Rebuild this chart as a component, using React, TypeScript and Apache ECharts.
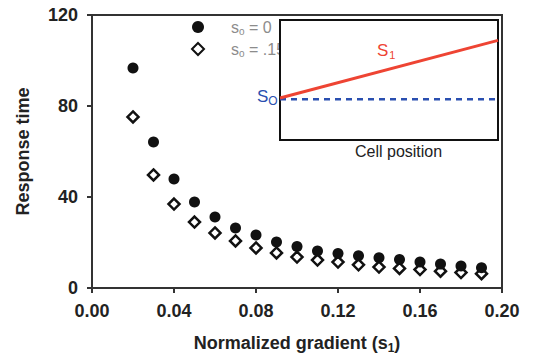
import React, { useEffect, useRef } from "react";
import * as echarts from "echarts";

const gradients = [0.02, 0.03, 0.04, 0.05, 0.06, 0.07, 0.08, 0.09, 0.1, 0.11, 0.12, 0.13, 0.14, 0.15, 0.16, 0.17, 0.18, 0.19];
const s0Zero = [96.7, 64.2, 47.9, 37.8, 31.2, 26.4, 23.3, 20.2, 18.2, 16.3, 15.2, 14.2, 13.3, 12.5, 11.4, 10.5, 9.7, 8.9];
const s0Fifteen = [75.2, 49.7, 36.9, 29.0, 24.2, 20.7, 17.6, 15.4, 13.6, 12.3, 11.4, 10.2, 9.2, 8.6, 8.1, 7.4, 6.8, 6.3];
const yTicks = [0, 40, 80, 120];
const xTicks = [0, 0.04, 0.08, 0.12, 0.16, 0.2];
// inset schematic: cell position 0..1
const insetPos = [0, 1];
const insetS1 = [0.35, 0.83];
const insetS0 = [0.34, 0.34];

const FONT = "Arial, 'Liberation Sans', Helvetica, sans-serif";

export default function App() {
  const ref = useRef<HTMLDivElement>(null);
  useEffect(() => {
    if (!ref.current) return;
    const chart = echarts.init(ref.current, undefined, { renderer: "svg" });
    const legendRich = {
      a: { fontSize: 16, color: "#8c8c8c", fontFamily: FONT },
      b: { fontSize: 10, color: "#8c8c8c", fontFamily: FONT, verticalAlign: "bottom", padding: [8, 0, 0, 0] },
    };
    chart.setOption({
      animation: false,
      backgroundColor: "#fff",
      textStyle: { fontFamily: FONT },
      legend: {
        orient: "vertical",
        left: 186,
        top: 14,
        itemWidth: 12,
        itemHeight: 12,
        itemGap: 5,
        data: ["zero", "fifteen"],
        formatter: (name: string) =>
          name === "zero" ? "{a|s}{b|o}{a| = 0}" : "{a|s}{b|o}{a| = .15}",
        textStyle: { padding: [0, 0, 0, 22], rich: legendRich },
      },
      grid: [
        { left: 92, top: 15, right: 33, bottom: 74, show: true, borderColor: "#333", borderWidth: 2 },
        { left: 280, top: 20, width: 218, height: 120, show: true, borderColor: "#111", borderWidth: 2, backgroundColor: "#fff", z: 5 },
      ],
      xAxis: [
        {
          type: "value",
          gridIndex: 0,
          min: 0,
          max: 0.2,
          interval: 0.04,
          name: "{a|Normalized gradient (s}{b|1}{a|)}",
          nameLocation: "middle",
          nameGap: 44,
          nameTextStyle: {
            rich: {
              a: { fontSize: 18, fontWeight: "bold", color: "#222", fontFamily: FONT },
              b: { fontSize: 12, fontWeight: "bold", color: "#222", fontFamily: FONT, verticalAlign: "bottom", padding: [10, 0, 0, 0] },
            },
          },
          axisLine: { show: true, lineStyle: { color: "#333", width: 2 } },
          axisTick: { show: true, length: 5, lineStyle: { color: "#333", width: 2 } },
          splitLine: { show: false },
          axisLabel: {
            fontSize: 18,
            fontWeight: "bold",
            color: "#222",
            margin: 14,
            formatter: (v: number) => v.toFixed(2),
          },
        },
        { type: "value", gridIndex: 1, min: 0, max: 1, show: false },
      ],
      yAxis: [
        {
          type: "value",
          gridIndex: 0,
          min: 0,
          max: 120,
          interval: 40,
          name: "Response time",
          nameLocation: "middle",
          nameGap: 60,
          nameTextStyle: { fontSize: 18, fontWeight: "bold", color: "#222" },
          axisLine: { show: true, lineStyle: { color: "#333", width: 2 } },
          axisTick: { show: true, length: 5, lineStyle: { color: "#333", width: 2 } },
          splitLine: { show: false },
          axisLabel: { fontSize: 18, fontWeight: "bold", color: "#222", margin: 14 },
        },
        { type: "value", gridIndex: 1, min: 0, max: 1, show: false },
      ],
      series: [
        {
          name: "zero",
          type: "scatter",
          xAxisIndex: 0,
          yAxisIndex: 0,
          symbol: "circle",
          symbolSize: 11,
          itemStyle: { color: "#111", opacity: 1 },
          data: gradients.map((g, i) => [g, s0Zero[i]]),
          z: 3,
        },
        {
          name: "fifteen",
          type: "scatter",
          xAxisIndex: 0,
          yAxisIndex: 0,
          symbol: "diamond",
          symbolSize: 11,
          itemStyle: { color: "#fff", borderColor: "#111", borderWidth: 2.5, opacity: 1 },
          data: gradients.map((g, i) => [g, s0Fifteen[i]]),
          z: 2,
        },
        {
          name: "insetS0",
          type: "line",
          xAxisIndex: 1,
          yAxisIndex: 1,
          symbol: "none",
          lineStyle: { color: "#2a4fb0", width: 2.5, type: [6, 5] },
          data: insetPos.map((p, i) => [p, insetS0[i]]),
          z: 6,
        },
        {
          name: "insetS1",
          type: "line",
          xAxisIndex: 1,
          yAxisIndex: 1,
          symbol: "none",
          lineStyle: { color: "#ee4433", width: 3 },
          data: insetPos.map((p, i) => [p, insetS1[i]]),
          z: 7,
        },
      ],
      graphic: [
        {
          type: "text",
          left: 377,
          top: 42,
          z: 10,
          style: {
            text: "{a|S}{b|1}",
            rich: {
              a: { fontSize: 17, fill: "#ee4433", fontFamily: FONT },
              b: { fontSize: 11, fill: "#ee4433", fontFamily: FONT, verticalAlign: "bottom", padding: [8, 0, 0, 1] },
            },
          },
        },
        {
          type: "text",
          left: 257,
          top: 88,
          z: 10,
          style: {
            text: "{a|S}{b|O}",
            rich: {
              a: { fontSize: 17, fill: "#2a4fb0", fontFamily: FONT },
              b: { fontSize: 12, fill: "#2a4fb0", fontFamily: FONT, verticalAlign: "bottom", padding: [8, 0, 0, 0] },
            },
          },
        },
        {
          type: "text",
          left: 355,
          top: 143,
          z: 10,
          style: { text: "Cell position", fontSize: 16, fill: "#222", fontFamily: FONT },
        },
      ],
    });
    return () => chart.dispose();
  }, []);
  return <div ref={ref} style={{ width: 535, height: 362, position: "absolute", left: 0, top: 0 }} />;
}
